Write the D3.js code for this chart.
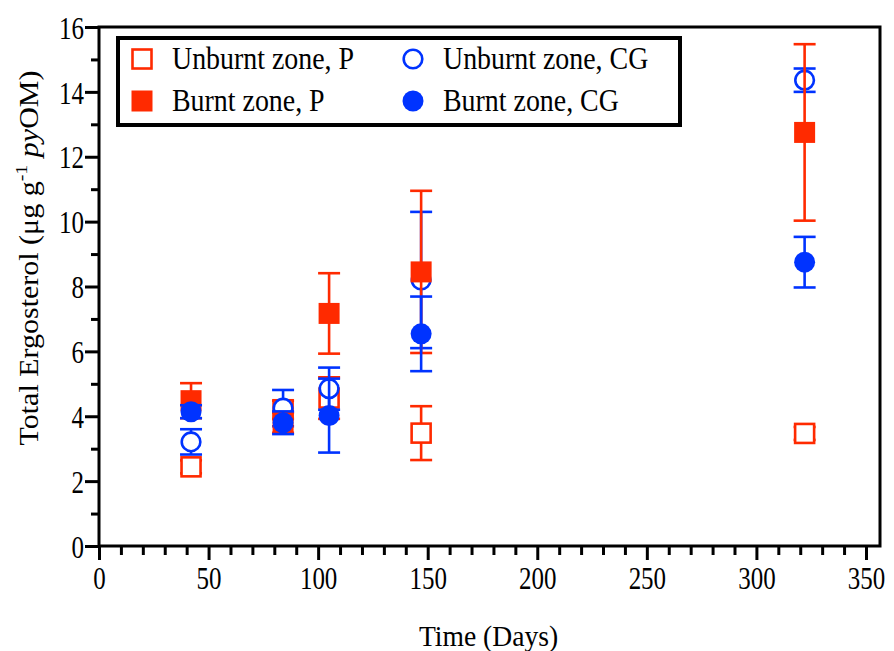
<!DOCTYPE html>
<html><head><meta charset="utf-8">
<script src="https://cdn.jsdelivr.net/npm/d3@7"></script>
<style>body{margin:0;background:#fff}svg{display:block}</style>
</head><body>
<script>
const days = [42, 84, 105, 147, 322];
const unburntP = [2.44, 4.2, 4.56, 3.48, 3.47];
const unburntPErr = [0.2, 0.28, 0.64, 0.83, 0.2];
const unburntCG = [3.21, 4.25, 4.85, 8.2, 14.36];
const unburntCGErr = [0.39, 0.56, 0.65, 2.1, 0.36];
const burntP = [4.48, 3.8, 7.17, 8.45, 12.75];
const burntPErr = [0.54, 0.31, 1.24, 2.5, 2.72];
const burntCG = [4.14, 3.8, 4.02, 6.54, 8.75];
const burntCGErr = [0.2, 0.35, 1.14, 1.15, 0.78];
const xMajor = [0, 50, 100, 150, 200, 250, 300, 350];
const yMajor = [0, 2, 4, 6, 8, 10, 12, 14, 16];
const legendLabels = ["Unburnt zone, P", "Burnt zone, P", "Unburnt zone, CG", "Burnt zone, CG"];

const RED = "#FF2A00", BLUE = "#0033FF";
const W = 894, H = 651;
const svg = d3.select("body").append("svg").attr("width", W).attr("height", H);
const x = d3.scaleLinear().domain([0, 356.4]).range([99, 880]);
const y = d3.scaleLinear().domain([0, 16]).range([546, 27]);
const FONT = "'Liberation Serif','Times New Roman',serif";

// frame
svg.append("rect").attr("x", x(0)).attr("y", y(16)).attr("width", x(356.4) - x(0)).attr("height", y(0) - y(16))
  .attr("fill", "none").attr("stroke", "#000").attr("stroke-width", 3);

const xMinor = d3.range(0, 351, 10).filter(v => v % 50 !== 0);
const yMinor = d3.range(1, 16, 2);

function styleAxis(g) {
  g.select(".domain").remove();
  g.selectAll("line").attr("stroke", "#000").attr("stroke-width", 3);
}
svg.append("g").attr("transform", `translate(0,${y(0)})`)
  .call(d3.axisBottom(x).tickValues(xMinor).tickSize(9).tickFormat(""))
  .call(styleAxis);
const gx = svg.append("g").attr("transform", `translate(0,${y(0)})`)
  .call(d3.axisBottom(x).tickValues(xMajor).tickSize(14).tickPadding(5).tickFormat(d3.format("d")))
  .call(styleAxis);
gx.selectAll("text").attr("font-family", FONT).attr("font-size", 32).attr("fill", "#000")
  .attr("transform", "scale(0.78,1)").attr("dy", "0.76em");

svg.append("g").attr("transform", `translate(${x(0)},0)`)
  .call(d3.axisLeft(y).tickValues(yMinor).tickSize(8).tickFormat(""))
  .call(styleAxis);
const gy = svg.append("g").attr("transform", `translate(${x(0)},0)`)
  .call(d3.axisLeft(y).tickValues(yMajor).tickSize(14).tickPadding(2).tickFormat(d3.format("d")))
  .call(styleAxis);
gy.selectAll("text").attr("font-family", FONT).attr("font-size", 32).attr("fill", "#000")
  .attr("x", -15 / 0.78).attr("transform", "scale(0.78,1)").attr("dy", "0.35em");

// axis titles
svg.append("text").attr("transform", `translate(${(x(0) + x(356.4)) / 2 - 1},646) scale(0.92,1)`)
  .attr("text-anchor", "middle").attr("font-family", FONT).attr("font-size", 30).text("Time (Days)");

const yl = svg.append("text").attr("transform", `translate(38,258) rotate(-90) scale(1,0.88)`)
  .attr("text-anchor", "middle").attr("font-family", FONT).attr("font-size", 30);
yl.append("tspan").text("Total Ergosterol (μg g");
yl.append("tspan").attr("font-size", 20).attr("dy", -12).text("-1");
yl.append("tspan").attr("dy", 12).text(" ");
yl.append("tspan").attr("font-style", "italic").text("py");
yl.append("tspan").text("OM)");

// series
const series = [
  {vals: unburntP, err: unburntPErr, color: RED, shape: "square", fill: false},
  {vals: unburntCG, err: unburntCGErr, color: BLUE, shape: "circle", fill: false},
  {vals: burntP, err: burntPErr, color: RED, shape: "square", fill: true},
  {vals: burntCG, err: burntCGErr, color: BLUE, shape: "circle", fill: true},
];
const CAP = 11;
function drawMarker(g, cx, cy, s) {
  if (s.shape === "square") {
    const side = s.fill ? 21 : 19;
    g.append("rect").attr("x", cx - side / 2).attr("y", cy - side / 2).attr("width", side).attr("height", side)
      .attr("fill", s.fill ? s.color : "#fff").attr("stroke", s.fill ? "none" : s.color).attr("stroke-width", 2.6);
  } else {
    g.append("circle").attr("cx", cx).attr("cy", cy).attr("r", s.fill ? 10.5 : 9.3)
      .attr("fill", s.fill ? s.color : "#fff").attr("stroke", s.fill ? "none" : s.color).attr("stroke-width", 2.6);
  }
}
series.forEach(s => {
  const g = svg.append("g");
  days.forEach((d, i) => {
    const cx = x(d), hi = y(s.vals[i] + s.err[i]), lo = y(s.vals[i] - s.err[i]);
    g.append("line").attr("x1", cx).attr("x2", cx).attr("y1", hi).attr("y2", lo).attr("stroke", s.color).attr("stroke-width", 2.6);
    [hi, lo].forEach(yy => g.append("line").attr("x1", cx - CAP).attr("x2", cx + CAP).attr("y1", yy).attr("y2", yy)
      .attr("stroke", s.color).attr("stroke-width", 2.6));
    drawMarker(g, cx, y(s.vals[i]), s);
  });
});

// legend
svg.append("rect").attr("x", 118).attr("y", 38).attr("width", 562).attr("height", 87)
  .attr("fill", "#fff").attr("stroke", "#000").attr("stroke-width", 4);
const legOrder = [series[0], series[2], series[1], series[3]];
const legPos = [[142, 59], [142, 101], [413, 59], [413, 101]];
legOrder.forEach((s, i) => {
  const [mx, my] = legPos[i];
  const g = svg.append("g");
  drawMarker(g, mx, my, s);
  svg.append("text").attr("transform", `translate(${mx + 30},${my + 10}) scale(0.9,1)`)
    .attr("font-family", FONT).attr("font-size", 31).text(legendLabels[i]);
});
</script>
</body></html>
